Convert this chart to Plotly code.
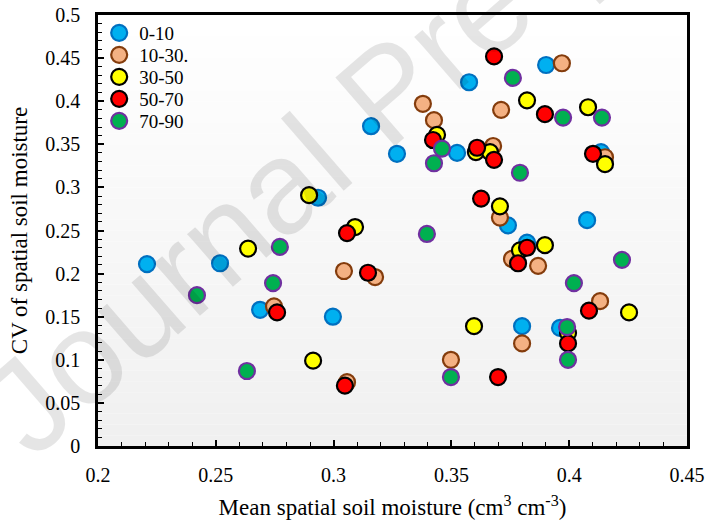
import plotly.graph_objects as go

# Depth classes (cm) and their observations: mean spatial soil moisture vs CV
depth_labels = ["0-10", "10-30.", "30-50", "50-70", "70-90"]

mean_0_10 = [0.2208, 0.2518, 0.2688, 0.2997, 0.2934, 0.3159, 0.3269, 0.3524,
             0.3575, 0.3902, 0.3740, 0.3821, 0.4076, 0.3800, 0.3961, 0.4135]
cv_0_10 = [0.211, 0.212, 0.158, 0.150, 0.288, 0.371, 0.339, 0.340,
           0.422, 0.442, 0.256, 0.236, 0.262, 0.139, 0.137, 0.341]

mean_10_30 = [0.2747, 0.3044, 0.3176, 0.3057, 0.3379, 0.3426, 0.3677, 0.3711,
              0.3969, 0.4152, 0.3706, 0.3757, 0.3868, 0.3498, 0.3800, 0.4131]
cv_10_30 = [0.162, 0.203, 0.196, 0.074, 0.397, 0.378, 0.348, 0.390,
            0.444, 0.335, 0.265, 0.217, 0.209, 0.100, 0.119, 0.168]

mean_30_50 = [0.2637, 0.2913, 0.2896, 0.3091, 0.3439, 0.3604, 0.3664, 0.3821,
              0.4080, 0.4152, 0.3706, 0.3791, 0.3897, 0.3596, 0.3995, 0.4254]
cv_30_50 = [0.229, 0.099, 0.291, 0.254, 0.361, 0.341, 0.341, 0.401,
            0.393, 0.327, 0.278, 0.227, 0.233, 0.139, 0.131, 0.155]

mean_50_70 = [0.2760, 0.3057, 0.3146, 0.3048, 0.3422, 0.3609, 0.3681, 0.3681,
              0.3897, 0.4101, 0.3626, 0.3821, 0.3783, 0.3698, 0.4084, 0.3995]
cv_50_70 = [0.155, 0.247, 0.201, 0.070, 0.355, 0.346, 0.332, 0.452,
            0.385, 0.339, 0.287, 0.230, 0.212, 0.080, 0.157, 0.119]

mean_70_90 = [0.2420, 0.2632, 0.2743, 0.2772, 0.3396, 0.3460, 0.3426, 0.3498,
              0.3761, 0.3974, 0.4139, 0.3791, 0.4020, 0.4224, 0.3991, 0.3995]
cv_70_90 = [0.175, 0.087, 0.189, 0.231, 0.246, 0.345, 0.328, 0.080,
            0.427, 0.381, 0.381, 0.317, 0.189, 0.216, 0.138, 0.100]

fill_colors = ["#00B0F0", "#F4B183", "#FFFF00", "#FF0000", "#00B050"]
edge_colors = ["#0070C0", "#843C0C", "#000000", "#000000", "#7030A0"]

series = [
    (mean_0_10, cv_0_10),
    (mean_10_30, cv_10_30),
    (mean_30_50, cv_30_50),
    (mean_50_70, cv_50_70),
    (mean_70_90, cv_70_90),
]

serif = "Liberation Serif"

# Each depth class gets its own compact legend box so the entries sit tightly
legend_ids = ["legend", "legend2", "legend3", "legend4", "legend5"]
legend_rows_px = [33, 55, 77, 99, 121]   # row centres, px from top of figure
plot_top_px, plot_h_px = 15, 431

fig = go.Figure()
for (xs, ys), name, fc, ec, lid in zip(series, depth_labels, fill_colors,
                                       edge_colors, legend_ids):
    fig.add_trace(go.Scatter(
        x=xs, y=ys, mode="markers", name=name, legend=lid,
        marker=dict(size=16, color=fc, line=dict(color=ec, width=2.2)),
    ))

legend_layout = {}
for lid, row in zip(legend_ids, legend_rows_px):
    legend_layout[lid] = dict(
        x=0.002, y=1 - (row - plot_top_px) / plot_h_px,
        xanchor="left", yanchor="middle",
        bgcolor="rgba(0,0,0,0)", borderwidth=0,
        font=dict(family=serif, size=19, color="black"),
        itemwidth=30,
    )

# Soft vertical gradient in the plotting area (white at top, light grey at bottom)
n_bands = 40
shapes = []
for i in range(n_bands):
    t = i / (n_bands - 1)
    g = int(round(255 - 15 * t))
    shapes.append(dict(
        type="rect", xref="paper", yref="paper",
        x0=0, x1=1, y0=1 - (i + 1) / n_bands, y1=1 - i / n_bands,
        fillcolor=f"rgb({g},{g},{g})", line=dict(width=0), layer="below",
    ))

axis_common = dict(
    showgrid=False, zeroline=False, automargin=False,
    showline=True, linecolor="black", linewidth=2.5, mirror=True,
    ticks="inside", ticklen=6, tickwidth=1.5, tickcolor="black",
    tickfont=dict(family=serif, size=20, color="black"),
)

fig.update_xaxes(
    range=[0.2, 0.45], dtick=0.05, tick0=0.2,
    minor=dict(dtick=0.01, ticks="inside", ticklen=4, tickwidth=1.2, tickcolor="black"),
    ticklabelstandoff=9,
    title=dict(text="Mean spatial soil moisture (cm<sup>3</sup> cm<sup>-3</sup>)",
               font=dict(family=serif, size=23, color="black"), standoff=15),
    **axis_common,
)
fig.update_yaxes(
    range=[0, 0.5], dtick=0.05, tick0=0,
    minor=dict(dtick=0.01, ticks="inside", ticklen=4, tickwidth=1.2, tickcolor="black"),
    ticklabelstandoff=11,
    title=dict(text="CV of spatial soil moisture",
               font=dict(family=serif, size=23, color="black"), standoff=12),
    **axis_common,
)

# Diagonal watermark
fig.add_annotation(
    text="Journal Pre-proof", xref="paper", yref="paper",
    x=(387 - 98) / 589, y=(446 - 92) / 431, xanchor="center", yanchor="middle",
    showarrow=False, textangle=-41,
    font=dict(family="Liberation Sans", size=132, color="rgba(0,0,0,0.10)"),
)

fig.update_layout(
    width=706, height=521,
    margin=dict(l=98, r=19, t=15, b=75, autoexpand=False),
    paper_bgcolor="white", plot_bgcolor="white",
    shapes=shapes,
    showlegend=True,
    **legend_layout,
)

fig.write_html("out.html")
